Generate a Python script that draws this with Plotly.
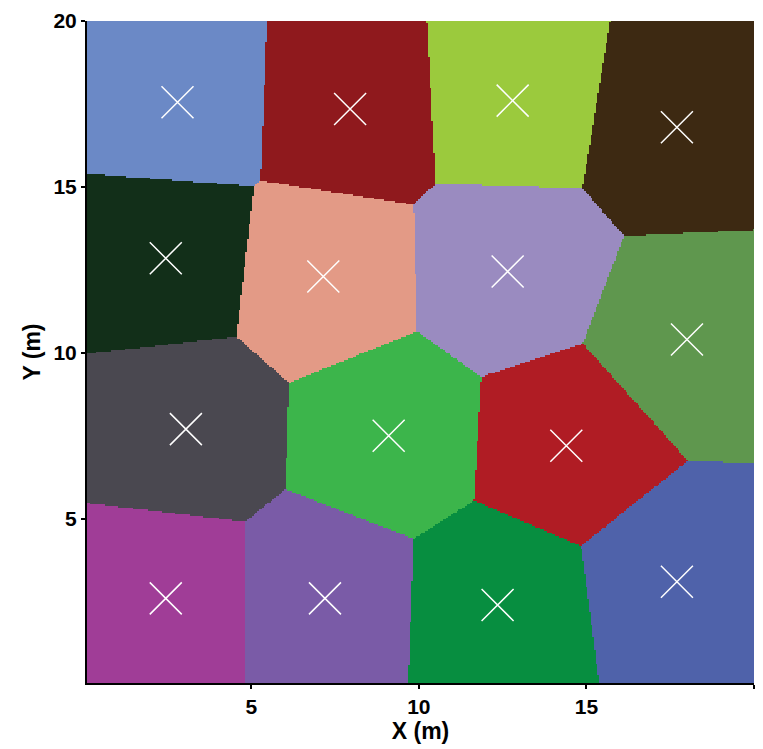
import numpy as np
import plotly.graph_objects as go

# Cluster centroids (m)
cx = [2.8, 7.95, 12.8, 17.7, 2.45, 7.15, 12.65, 18.0, 3.05, 9.1, 14.4, 2.45, 7.2, 12.35, 17.7]
cy = [17.55, 17.35, 17.6, 16.8, 12.85, 12.3, 12.45, 10.4, 7.7, 7.5, 7.2, 2.6, 2.6, 2.4, 3.1]
colors = ["#6B89C6", "#8F191D", "#9BCA3D", "#3D2912", "#122F19", "#E39A86",
          "#9A8BC0", "#5F974E", "#4A4850", "#3CB54B", "#B01C24", "#A03D97",
          "#7A5BA7", "#078E40", "#4F62AA"]
tick_vals = [5, 10, 15, 20]

x_min, x_max = 0.0, 20.0
step = 0.05
gx = np.arange(x_min, x_max + step / 2, step)
gy = np.arange(x_min, x_max + step / 2, step)
XX, YY = np.meshgrid(gx, gy)
d = (XX[..., None] - np.array(cx)) ** 2 + (YY[..., None] - np.array(cy)) ** 2
labels = np.argmin(d, axis=2)

n = len(colors)
cs = []
for i, c in enumerate(colors):
    cs.append([i / n, c])
    cs.append([(i + 1) / n, c])

fig = go.Figure()
fig.add_trace(go.Heatmap(x=gx, y=gy, z=labels, zmin=-0.5, zmax=n - 0.5,
                         colorscale=cs, showscale=False, zsmooth=False,
                         hoverinfo="skip"))
fig.add_trace(go.Scatter(x=cx, y=cy, mode="markers",
                         marker=dict(symbol="x-thin", size=32,
                                     line=dict(color="white", width=1.5)),
                         showlegend=False))

font_fam = "Liberation Sans"
axis_common = dict(showgrid=False, zeroline=False, showline=True, linecolor="black",
                   linewidth=2, ticks="outside", ticklen=4, tickwidth=2,
                   tickcolor="black", mirror=False,
                   tickfont=dict(family=font_fam, size=21, color="black", weight="bold"),
                   tickvals=tick_vals)
fig.update_xaxes(range=[0.1, 20], title=dict(text="X (m)", standoff=2,
                 font=dict(family=font_fam, size=23, color="black", weight="bold")),
                 **axis_common)
fig.update_yaxes(range=[0.05, 20], title=dict(text="Y (m)", standoff=6,
                 font=dict(family=font_fam, size=23, color="black", weight="bold")),
                 **axis_common)
fig.update_layout(width=763, height=749, margin=dict(l=87, r=9, t=15, b=66),
                  plot_bgcolor="white", paper_bgcolor="white", showlegend=False)
fig.write_html("out.html")
